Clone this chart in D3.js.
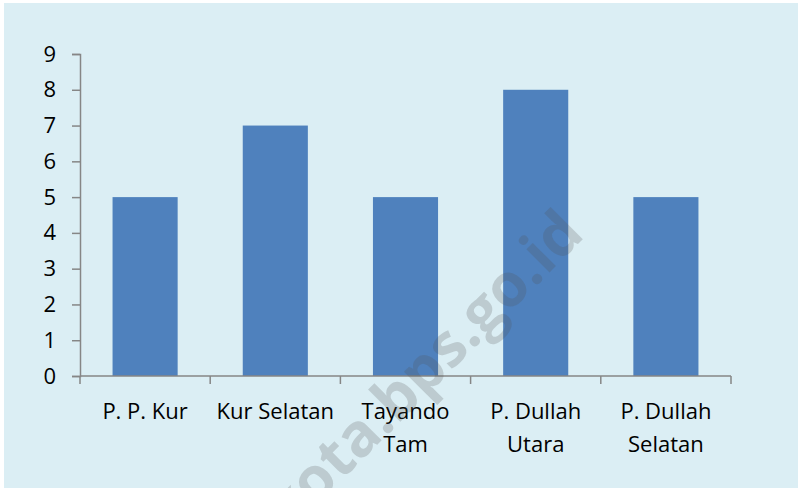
<!DOCTYPE html>
<html>
<head>
<meta charset="utf-8">
<style>
  body { margin: 0; background: #fff; }
  text { font-family: "Open Sans", sans-serif; }
</style>
</head>
<body>
<svg width="798" height="488"></svg>
<script src="https://d3js.org/d3.v7.min.js"></script>
<script>
// data
var categories = ["P. P. Kur", "Kur Selatan", "Tayando Tam", "P. Dullah Utara", "P. Dullah Selatan"];
var labelLines = [["P. P. Kur"], ["Kur Selatan"], ["Tayando", "Tam"], ["P. Dullah", "Utara"], ["P. Dullah", "Selatan"]];
var values = [5, 7, 5, 8, 5];
var yTicks = [0, 1, 2, 3, 4, 5, 6, 7, 8, 9];

var svg = d3.select("svg");

// chart area background
svg.append("rect")
  .attr("x", 4).attr("y", 3)
  .attr("width", 794).attr("height", 485)
  .attr("fill", "#dbeef4");

var x = d3.scaleBand()
  .domain(categories)
  .range([80, 731])
  .padding(0);

var y = d3.scaleLinear()
  .domain([0, 9])
  .range([376, 54]);

var axisColor = "#868686";

// bars
svg.selectAll("rect.bar")
  .data(values)
  .enter().append("rect")
  .attr("class", "bar")
  .attr("x", (d, i) => x(categories[i]) + x.bandwidth() * 0.25)
  .attr("width", x.bandwidth() * 0.5)
  .attr("y", d => y(d))
  .attr("height", d => y(0) - y(d))
  .attr("fill", "#4f81bd");

// y axis
var yAxis = svg.append("g")
  .attr("transform", "translate(80,0)")
  .call(d3.axisLeft(y).tickValues(yTicks).tickSize(8).tickPadding(16).tickFormat(d3.format("d")));
yAxis.select(".domain").attr("stroke", axisColor).attr("stroke-width", 1.5);
yAxis.selectAll(".tick line").attr("stroke", axisColor).attr("stroke-width", 1.5);
yAxis.selectAll(".tick text")
  .attr("fill", "#000")
  .attr("font-size", 22)
  .attr("font-family", "'Open Sans', sans-serif");

// x axis line and boundary ticks
var xg = svg.append("g");
xg.append("line")
  .attr("x1", 80).attr("x2", 731)
  .attr("y1", y(0)).attr("y2", y(0))
  .attr("stroke", axisColor).attr("stroke-width", 1.5);
var bounds = categories.map(c => x(c)).concat([x.range()[1]]);
xg.selectAll("line.tk")
  .data(bounds)
  .enter().append("line")
  .attr("class", "tk")
  .attr("x1", d => d).attr("x2", d => d)
  .attr("y1", y(0)).attr("y2", y(0) + 8)
  .attr("stroke", axisColor).attr("stroke-width", 1.5);

// category labels
var lab = xg.selectAll("text.cat")
  .data(labelLines)
  .enter().append("text")
  .attr("class", "cat")
  .attr("text-anchor", "middle")
  .attr("font-size", 22)
  .attr("fill", "#000")
  .attr("x", (d, i) => x(categories[i]) + x.bandwidth() / 2)
  .attr("y", y(0) + 43);
lab.selectAll("tspan")
  .data(d => d)
  .enter().append("tspan")
  .attr("x", function () { return d3.select(this.parentNode).attr("x"); })
  .attr("dy", (d, i) => i === 0 ? 0 : 33)
  .text(d => d);

// watermark
svg.append("text")
  .attr("transform", "translate(586,236) rotate(-45)")
  .attr("text-anchor", "end")
  .attr("font-family", "'Liberation Sans', Arial, sans-serif")
  .attr("font-weight", "bold")
  .attr("font-size", 60)
  .attr("fill", "#505050")
  .attr("fill-opacity", 0.22)
  .text("tualkota.bps.go.id");
</script>
</body>
</html>
